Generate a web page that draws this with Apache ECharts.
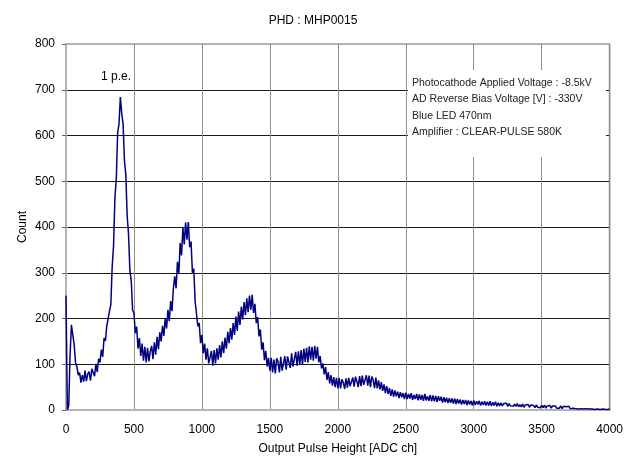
<!DOCTYPE html>
<html>
<head>
<meta charset="utf-8">
<script src="https://cdn.jsdelivr.net/npm/echarts@6/dist/echarts.min.js"></script>
<style>
html,body{margin:0;padding:0;background:#fff;}
#chart{width:626px;height:467px;}
</style>
</head>
<body>
<div id="chart"></div>
<script>
const titleText = 'PHD : MHP0015';
const xAxisName = 'Output Pulse Height [ADC ch]';
const yAxisName = 'Count';
const peakLabel = '1 p.e.';
const infoLines = [
  'Photocathode Applied Voltage : -8.5kV',
  'AD Reverse Bias Voltage [V] : -330V',
  'Blue LED 470nm',
  'Amplifier : CLEAR-PULSE 580K'
];
const xTicks = [0, 500, 1000, 1500, 2000, 2500, 3000, 3500, 4000];
const yTicks = [0, 100, 200, 300, 400, 500, 600, 700, 800];
const channelStart = 0;
const channelStep = 10;
// counts, one value per 10 ADC channels (0..4000)
const counts = [
  250, 0, 10, 120, 186, 164, 143, 104, 95, 76,
  82, 60, 76, 62, 86, 63, 79, 84, 64, 90,
  94, 74, 101, 83, 112, 104, 132, 116, 157, 151,
  184, 182, 216, 231, 315, 360, 465, 505, 606, 625,
  684, 648, 626, 545, 515, 425, 384, 305, 283, 218,
  212, 168, 182, 134, 157, 118, 145, 108, 138, 104,
  136, 106, 128, 140, 111, 148, 121, 160, 133, 170,
  150, 184, 162, 201, 178, 219, 194, 238, 216, 266,
  292, 266, 324, 298, 365, 338, 399, 362, 410, 372,
  411, 356, 368, 300, 309, 238, 242, 183, 190, 146,
  164, 124, 145, 110, 135, 102, 101, 129, 97, 131,
  102, 135, 110, 142, 115, 150, 124, 158, 134, 171,
  146, 179, 154, 190, 164, 204, 173, 215, 186, 226,
  198, 236, 207, 244, 214, 250, 219, 252, 212, 232,
  190, 203, 161, 176, 132, 148, 109, 129, 95, 114,
  86, 114, 82, 110, 80, 113, 106, 82, 116, 86,
  90, 118, 88, 117, 121, 92, 124, 95, 98, 127,
  97, 128, 100, 131, 99, 134, 105, 136, 104, 139,
  110, 138, 108, 140, 112, 138, 104, 118, 91, 102,
  78, 94, 66, 83, 58, 76, 53, 72, 50, 70,
  48, 70, 47, 67, 60, 46, 69, 49, 70, 52,
  49, 71, 51, 73, 63, 50, 74, 52, 75, 55,
  52, 76, 53, 75, 50, 73, 66, 48, 71, 47,
  65, 45, 61, 42, 56, 37, 52, 35, 48, 31,
  45, 29, 43, 30, 40, 26, 39, 28, 37, 24,
  38, 24, 35, 25, 37, 22, 33, 24, 35, 21,
  34, 22, 33, 20, 35, 21, 30, 20, 33, 19,
  32, 19, 31, 18, 30, 20, 29, 16, 28, 17,
  27, 15, 26, 16, 25, 14, 25, 13, 24, 14,
  23, 12, 22, 13, 22, 11, 21, 12, 20, 10,
  21, 11, 19, 12, 20, 10, 18, 11, 19, 10,
  18, 10, 19, 9, 17, 10, 18, 8, 16, 9,
  16, 9, 14, 10, 15, 8, 14, 9, 13, 8,
  13, 8, 14, 7, 12, 7, 13, 6, 11, 7,
  12, 6, 11, 7, 10, 5, 11, 6, 10, 5,
  10, 5, 11, 4, 9, 5, 10, 4, 9, 5,
  9, 4, 8, 4, 9, 3, 8, 4, 7, 3,
  8, 3, 7, 4, 8, 3, 7, 2, 6, 3,
  7, 2, 6, 3, 6, 2, 5, 2, 6, 1,
  5, 2, 5, 1, 4, 2, 5, 1, 4, 1,
  3
];

const FONT = '"Liberation Sans", Arial, Helvetica, sans-serif';
const seriesData = counts.map((v, i) => [channelStart + i * channelStep, v]);
const yGridColors = yTicks.map((t, i) => (i === 0 || i === yTicks.length - 1) ? '#b4b4b4' : '#1a1a1a');

const chart = echarts.init(document.getElementById('chart'), null, {renderer: 'canvas'});
chart.setOption({
  animation: false,
  backgroundColor: '#ffffff',
  title: {
    text: titleText,
    left: 'center',
    top: 10,
    textStyle: {fontFamily: FONT, fontSize: 12, fontWeight: 'normal', color: '#000'}
  },
  grid: {
    left: 66, right: 16, top: 44, bottom: 57,
    show: true, borderColor: '#b4b4b4', borderWidth: 2, backgroundColor: 'transparent'
  },
  xAxis: {
    type: 'value',
    min: xTicks[0], max: xTicks[xTicks.length - 1], interval: 500,
    name: xAxisName, nameLocation: 'middle', nameGap: 33, nameMoveOverlap: false,
    nameTextStyle: {fontFamily: FONT, fontSize: 12, color: '#000'},
    axisLine: {show: true, lineStyle: {color: '#b4b4b4', width: 2}},
    axisTick: {show: false},
    axisLabel: {fontFamily: FONT, fontSize: 12, color: '#000', margin: 14,
      formatter: v => String(v)},
    splitLine: {show: true, lineStyle: {color: '#8c8c8c', width: 1}}
  },
  yAxis: {
    type: 'value',
    min: yTicks[0], max: yTicks[yTicks.length - 1], interval: 100,
    name: yAxisName, nameLocation: 'middle', nameGap: 37, nameMoveOverlap: false,
    nameTextStyle: {fontFamily: FONT, fontSize: 12, color: '#000'},
    axisLine: {show: true, lineStyle: {color: '#b4b4b4', width: 2}},
    axisTick: {show: true, inside: false, length: 4, lineStyle: {color: '#666'}},
    axisLabel: {fontFamily: FONT, fontSize: 12, color: '#000', margin: 11,
      formatter: v => String(v)},
    splitLine: {show: true, lineStyle: {color: yGridColors, width: 1}}
  },
  graphic: [
    {
      type: 'rect', z: 50,
      shape: {x: 408, y: 70, width: 198, height: 87},
      style: {fill: '#ffffff'}
    },
    ...infoLines.map((t, i) => ({
      type: 'text', z: 51,
      x: 412, y: 83 + i * 16.5,
      style: {text: t, font: '10.5px ' + FONT, fill: '#222', textVerticalAlign: 'middle'}
    })),
    {
      type: 'text', z: 51,
      x: 101, y: 77,
      style: {text: peakLabel, font: '12px ' + FONT, fill: '#000', textVerticalAlign: 'middle'}
    }
  ],
  series: [{
    type: 'line',
    data: seriesData,
    showSymbol: false,
    symbol: 'none',
    lineStyle: {color: '#000080', width: 1.5},
    z: 3
  }]
});
</script>
</body>
</html>
